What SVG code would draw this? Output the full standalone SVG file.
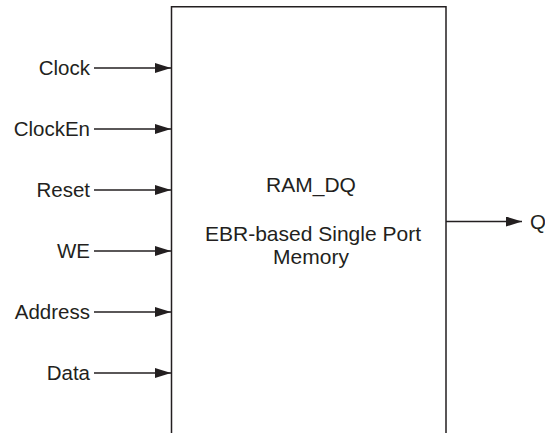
<svg xmlns="http://www.w3.org/2000/svg" width="545" height="433" viewBox="0 0 545 433">
<style>
text{font-family:"Liberation Sans",Arial,sans-serif;font-size:20.5px;fill:#231f20}
.lbl{text-anchor:end}
.ctr{text-anchor:middle;font-size:21px}
.wire{stroke:#231f20;stroke-width:1.3;fill:none}
.box{stroke:#231f20;stroke-width:1.5;fill:#fff}
</style>
<defs>
<marker id="ah" viewBox="0 0 16 10" refX="16" refY="5" markerWidth="16" markerHeight="10" markerUnits="userSpaceOnUse" orient="auto">
<path d="M0,0 L16,5 L0,10 Z" fill="#231f20"/>
</marker>
</defs>
<g id="ram_dq">
<path class="box" d="M171.5,440 V6.8 H446 V440"/>
<text class="ctr" x="311" y="192">RAM_DQ</text>
<text class="ctr" x="313" y="241">EBR-based Single Port</text>
<text class="ctr" x="311" y="264">Memory</text>
</g>
<g id="connectors">
<line class="wire" x1="94" y1="68" x2="171" y2="68" marker-end="url(#ah)"/>
<line class="wire" x1="94" y1="129" x2="171" y2="129" marker-end="url(#ah)"/>
<line class="wire" x1="94" y1="190" x2="171" y2="190" marker-end="url(#ah)"/>
<line class="wire" x1="94" y1="251" x2="171" y2="251" marker-end="url(#ah)"/>
<line class="wire" x1="94" y1="312" x2="171" y2="312" marker-end="url(#ah)"/>
<line class="wire" x1="94" y1="373" x2="171" y2="373" marker-end="url(#ah)"/>
<line class="wire" x1="446" y1="221.5" x2="522" y2="221.5" marker-end="url(#ah)"/>
</g>
<g id="clock"><text class="lbl" x="90" y="75">Clock</text></g>
<g id="clocken"><text class="lbl" x="90" y="136">ClockEn</text></g>
<g id="reset"><text class="lbl" x="90" y="197">Reset</text></g>
<g id="we"><text class="lbl" x="90" y="258">WE</text></g>
<g id="address"><text class="lbl" x="90" y="319">Address</text></g>
<g id="data"><text class="lbl" x="90" y="380">Data</text></g>
<g id="q"><text x="530" y="229">Q</text></g>
</svg>
